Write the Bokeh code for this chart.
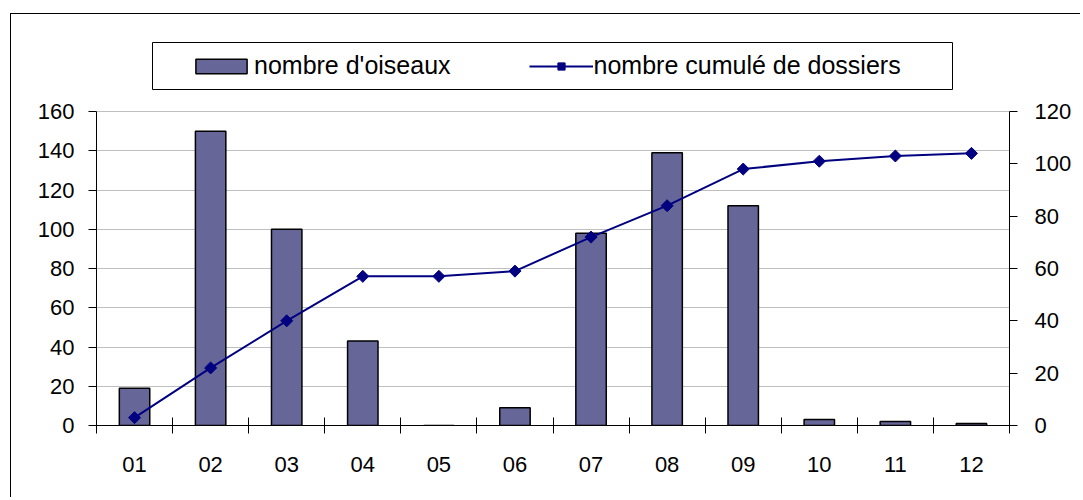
from math import pi
from bokeh.plotting import figure
from bokeh.models import (Range1d, LinearAxis, FixedTicker, Legend, LegendItem,
                          BoxAnnotation, ColumnDataSource)
from bokeh.embed import file_html
from bokeh.resources import INLINE

# ---- data ----
months = ["01", "02", "03", "04", "05", "06", "07", "08", "09", "10", "11", "12"]
nombre_oiseaux = [19, 150, 100, 43, 0, 9, 98, 139, 112, 3, 2, 1]
cumul_dossiers = [3, 22, 40, 57, 57, 59, 72, 84, 98, 101, 103, 104]
left_ticks = [0, 20, 40, 60, 80, 100, 120, 140, 160]
right_ticks = [0, 20, 40, 60, 80, 100, 120]
label_bars = "nombre d'oiseaux"
label_line = "nombre cumulé de dossiers"

FONT = "Liberation Sans"
xs = list(range(1, len(months) + 1))
src = ColumnDataSource(dict(x=xs, birds=nombre_oiseaux, cumul=cumul_dossiers))

# ---- geometry (canvas pixels) ----
W, H = 1070, 484
F_LEFT, F_RIGHT, F_TOP, F_BOTTOM = 85, 998, 20, 411
Y_AXIS_TOP = 97            # pixel where the value axes end (160 / 120)
LEFT_MAX, RIGHT_MAX = left_ticks[-1], right_ticks[-1]
ratio = (F_BOTTOM - F_TOP) / (F_BOTTOM - Y_AXIS_TOP)
px_per_cat = (F_RIGHT - F_LEFT) / len(months)

def x_at(cx):
    return 0.5 + (cx - F_LEFT) / px_per_cat

def y_at(cy):
    return LEFT_MAX * (F_BOTTOM - cy) / (F_BOTTOM - Y_AXIS_TOP)

p = figure(width=W, height=H, output_backend="svg", toolbar_location=None,
           x_range=Range1d(0.5, len(months) + 0.5),
           y_range=Range1d(0, LEFT_MAX * ratio),
           min_border_left=F_LEFT, min_border_right=W - F_RIGHT,
           min_border_top=F_TOP, min_border_bottom=H - F_BOTTOM)
p.margin = (13, 0, 0, 10)
p.styles = {"border-top": "1px solid #000000", "border-left": "1px solid #000000"}
p.outline_line_color = None
p.background_fill_color = "white"
p.border_fill_color = "white"
p.extra_y_ranges = {"right": Range1d(0, RIGHT_MAX * ratio)}

bars = p.vbar(x="x", top="birds", width=0.4, bottom=0, source=src,
              fill_color="#666699", line_color="black", line_width=1.5)
line = p.line(x="x", y="cumul", source=src, y_range_name="right",
              line_color="#000080", line_width=2)
pts = p.scatter(x="x", y="cumul", source=src, y_range_name="right",
                marker="square", size=8.5, angle=pi / 4,
                fill_color="#000080", line_color="#000080")

# bottom axis
xa = p.xaxis[0]
xa.ticker = FixedTicker(ticks=xs, minor_ticks=[x - 0.5 for x in xs] + [xs[-1] + 0.5])
xa.major_label_overrides = {x: m for x, m in zip(xs, months)}
xa.major_tick_in = 0
xa.major_tick_out = 0
xa.minor_tick_in = 8
xa.minor_tick_out = 8
xa.minor_tick_line_color = "black"
xa.axis_line_color = "black"
xa.major_label_standoff = 23
xa.major_label_text_font = FONT
xa.major_label_text_font_size = "22px"
xa.major_label_text_color = "black"

# left axis
ya = p.yaxis[0]
ya.ticker = FixedTicker(ticks=left_ticks)
ya.bounds = (0, LEFT_MAX)
ya.major_tick_in = 0
ya.major_tick_out = 8
ya.minor_tick_line_color = None
ya.axis_line_color = "black"
ya.major_label_standoff = 14
ya.major_label_text_font = FONT
ya.major_label_text_font_size = "22px"
ya.major_label_text_color = "black"

# right axis
ra = LinearAxis(y_range_name="right", ticker=FixedTicker(ticks=right_ticks),
                bounds=(0, RIGHT_MAX))
ra.major_tick_in = 0
ra.major_tick_out = 8
ra.minor_tick_line_color = None
ra.axis_line_color = "black"
ra.major_label_standoff = 17
ra.major_label_text_font = FONT
ra.major_label_text_font_size = "22px"
ra.major_label_text_color = "black"
p.add_layout(ra, "right")

p.xgrid.visible = False
p.ygrid.ticker = FixedTicker(ticks=left_ticks)
p.ygrid.grid_line_color = "#bfbfbf"
p.ygrid.grid_line_width = 1

# legend frame
p.add_layout(BoxAnnotation(left=x_at(141), right=x_at(941),
                           top=y_at(28), bottom=y_at(75),
                           fill_color="white", fill_alpha=1,
                           line_color="black", line_width=1, line_alpha=1))

legend = Legend(items=[LegendItem(label=label_bars, renderers=[bars]),
                       LegendItem(label=label_line, renderers=[line, pts])],
                orientation="horizontal", location=(93, 345),
                padding=0, margin=0, spacing=78, label_standoff=1,
                glyph_width=64, glyph_height=18,
                label_text_font=FONT, label_text_font_size="25px",
                label_text_color="black",
                border_line_alpha=0, background_fill_alpha=0)
p.add_layout(legend)

open("out.html", "w").write(file_html(p, INLINE))
